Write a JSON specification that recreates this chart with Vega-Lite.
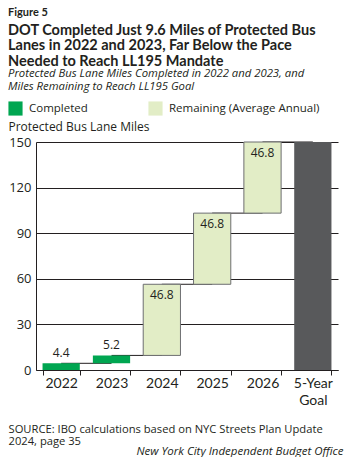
{
  "$schema": "https://vega.github.io/schema/vega-lite/v6.json",
  "width": 302,
  "height": 228,
  "padding": {"left": 8, "top": 6, "right": 10, "bottom": 0},
  "background": "white",
  "config": {"font": "Open Sans", "view": {"stroke": null}},
  "title": {
    "text": "Figure 5",
    "subtitle": ["DOT Completed Just 9.6 Miles of Protected Bus", "Lanes in 2022 and 2023, Far Below the Pace", "Needed to Reach LL195 Mandate"],
    "anchor": "start",
    "frame": "bounds",
    "font": "Lato",
    "subtitleFont": "Lato",
    "fontSize": 11,
    "fontWeight": "bold",
    "color": "#231f20",
    "subtitleFontSize": 14.5,
    "subtitleFontWeight": "bold",
    "subtitleColor": "#231f20",
    "subtitleLineHeight": 15.5,
    "subtitlePadding": 6,
    "offset": 0
  },
  "data": {
    "values": [
      {"year": "2022", "start": 0, "end": 4.4, "type": "Completed", "label": "4.4", "next": "2023"},
      {"year": "2023", "start": 4.4, "end": 9.6, "type": "Completed", "label": "5.2", "next": "2024"},
      {"year": "2024", "start": 9.6, "end": 56.4, "type": "Remaining (Average Annual)", "label": "46.8", "next": "2025"},
      {"year": "2025", "start": 56.4, "end": 103.2, "type": "Remaining (Average Annual)", "label": "46.8", "next": "2026"},
      {"year": "2026", "start": 103.2, "end": 150, "type": "Remaining (Average Annual)", "label": "46.8", "next": "5-Year Goal"},
      {"year": "5-Year Goal", "start": 0, "end": 150, "type": "Goal", "label": "", "next": null}
    ]
  },
  "resolve": {"axis": {"x": "independent"}},
  "layer": [
    {
      "transform": [{"filter": "datum.next != null"}],
      "mark": {"type": "rule", "color": "#231f20", "strokeWidth": 1},
      "encoding": {
        "x": {"field": "year", "type": "nominal", "sort": ["2022", "2023", "2024", "2025", "2026", "5-Year Goal"], "axis": null},
        "x2": {"field": "next"},
        "y": {"field": "end", "type": "quantitative", "scale": {"domain": [0, 150], "nice": false}}
      }
    },
    {
      "mark": {"type": "bar", "strokeWidth": 1},
      "encoding": {
        "x": {
          "field": "year", "type": "nominal",
          "sort": ["2022", "2023", "2024", "2025", "2026", "5-Year Goal"],
          "scale": {"paddingInner": 0.26, "paddingOuter": 0.13},
          "axis": {
            "orient": "bottom",
            "title": ["SOURCE: IBO calculations based on NYC Streets Plan Update", "2024, page 35"],
            "titleAnchor": "start", "titleAlign": "left", "titleBaseline": "top",
            "titleX": -28, "titleY": 53,
            "titleFontSize": 11.2, "titleFontWeight": "normal", "titleLineHeight": 12.5, "titleColor": "#231f20",
            "labelAngle": 0, "labelFont": "Lato", "labelFontSize": 14, "labelColor": "#231f20", "labelPadding": 1, "labelLineHeight": 17,
            "labelExpr": "datum.value == '5-Year Goal' ? ['5-Year', 'Goal'] : datum.value",
            "tickBand": "extent", "tickSize": 5, "tickColor": "#231f20", "domainColor": "#231f20", "domainWidth": 1, "labelFlush": false
          }
        },
        "y": {
          "field": "start", "type": "quantitative",
          "scale": {"domain": [0, 150], "nice": false},
          "axis": {
            "title": "Protected Bus Lane Miles",
            "titleAngle": 0, "titleAlign": "left", "titleBaseline": "middle",
            "titleX": -28, "titleY": -16,
            "titleFontSize": 12, "titleFontWeight": "normal", "titleColor": "#231f20",
            "values": [0, 30, 60, 90, 120, 150],
            "grid": true, "gridColor": "#231f20", "gridWidth": 1, "gridOpacity": 1,
            "ticks": false, "labelPadding": 5, "labelFontSize": 13, "labelColor": "#231f20",
            "domainColor": "#231f20", "labelFlush": false
          }
        },
        "y2": {"field": "end"},
        "color": {
          "field": "type", "type": "nominal",
          "scale": {"domain": ["Completed", "Remaining (Average Annual)", "Goal"], "range": ["#00a651", "#e2edc6", "#58595b"]},
          "legend": {
            "values": ["Completed", "Remaining (Average Annual)"],
            "orient": "none", "legendX": -28, "legendY": -74,
            "direction": "horizontal", "columns": 2,
            "title": ["Protected Bus Lane Miles Completed in 2022 and 2023, and", "Miles Remaining to Reach LL195 Goal"],
            "titleFontStyle": "italic", "titleFontWeight": "normal", "titleFontSize": 11.3, "titleLineHeight": 12.5,
            "titleLimit": 400, "titlePadding": 9, "titleColor": "#231f20",
            "symbolType": "square", "symbolSize": 200, "symbolStrokeWidth": 0,
            "labelFontSize": 11.5, "labelOffset": 6, "columnPadding": 60, "labelColor": "#231f20", "labelLimit": 300
          }
        },
        "stroke": {"condition": {"test": "datum.type === 'Remaining (Average Annual)'", "value": "#6d6e71"}, "value": "transparent"}
      }
    },
    {
      "transform": [{"filter": "datum.type === 'Completed'"}],
      "mark": {"type": "text", "baseline": "bottom", "dy": -3, "fontSize": 12, "color": "#231f20"},
      "encoding": {
        "x": {"field": "year", "type": "nominal", "sort": ["2022", "2023", "2024", "2025", "2026", "5-Year Goal"], "axis": null},
        "y": {"field": "end", "type": "quantitative"},
        "text": {"field": "label"}
      }
    },
    {
      "transform": [{"filter": "datum.type === 'Remaining (Average Annual)'"}],
      "mark": {"type": "text", "baseline": "middle", "dy": 11, "fontSize": 12, "color": "#231f20"},
      "encoding": {
        "x": {
          "field": "year", "type": "nominal", "sort": ["2022", "2023", "2024", "2025", "2026", "5-Year Goal"],
          "axis": {
            "orient": "bottom", "labels": false, "ticks": false, "domain": false, "grid": false,
            "title": "New York City Independent Budget Office",
            "titleFontStyle": "italic", "titleFontWeight": "normal", "titleFontSize": 11.5,
            "titleAnchor": "end", "titleAlign": "right", "titleBaseline": "top",
            "titleX": 307, "titleY": 75, "titleColor": "#231f20"
          }
        },
        "y": {"field": "end", "type": "quantitative"},
        "text": {"field": "label"}
      }
    }
  ]
}
